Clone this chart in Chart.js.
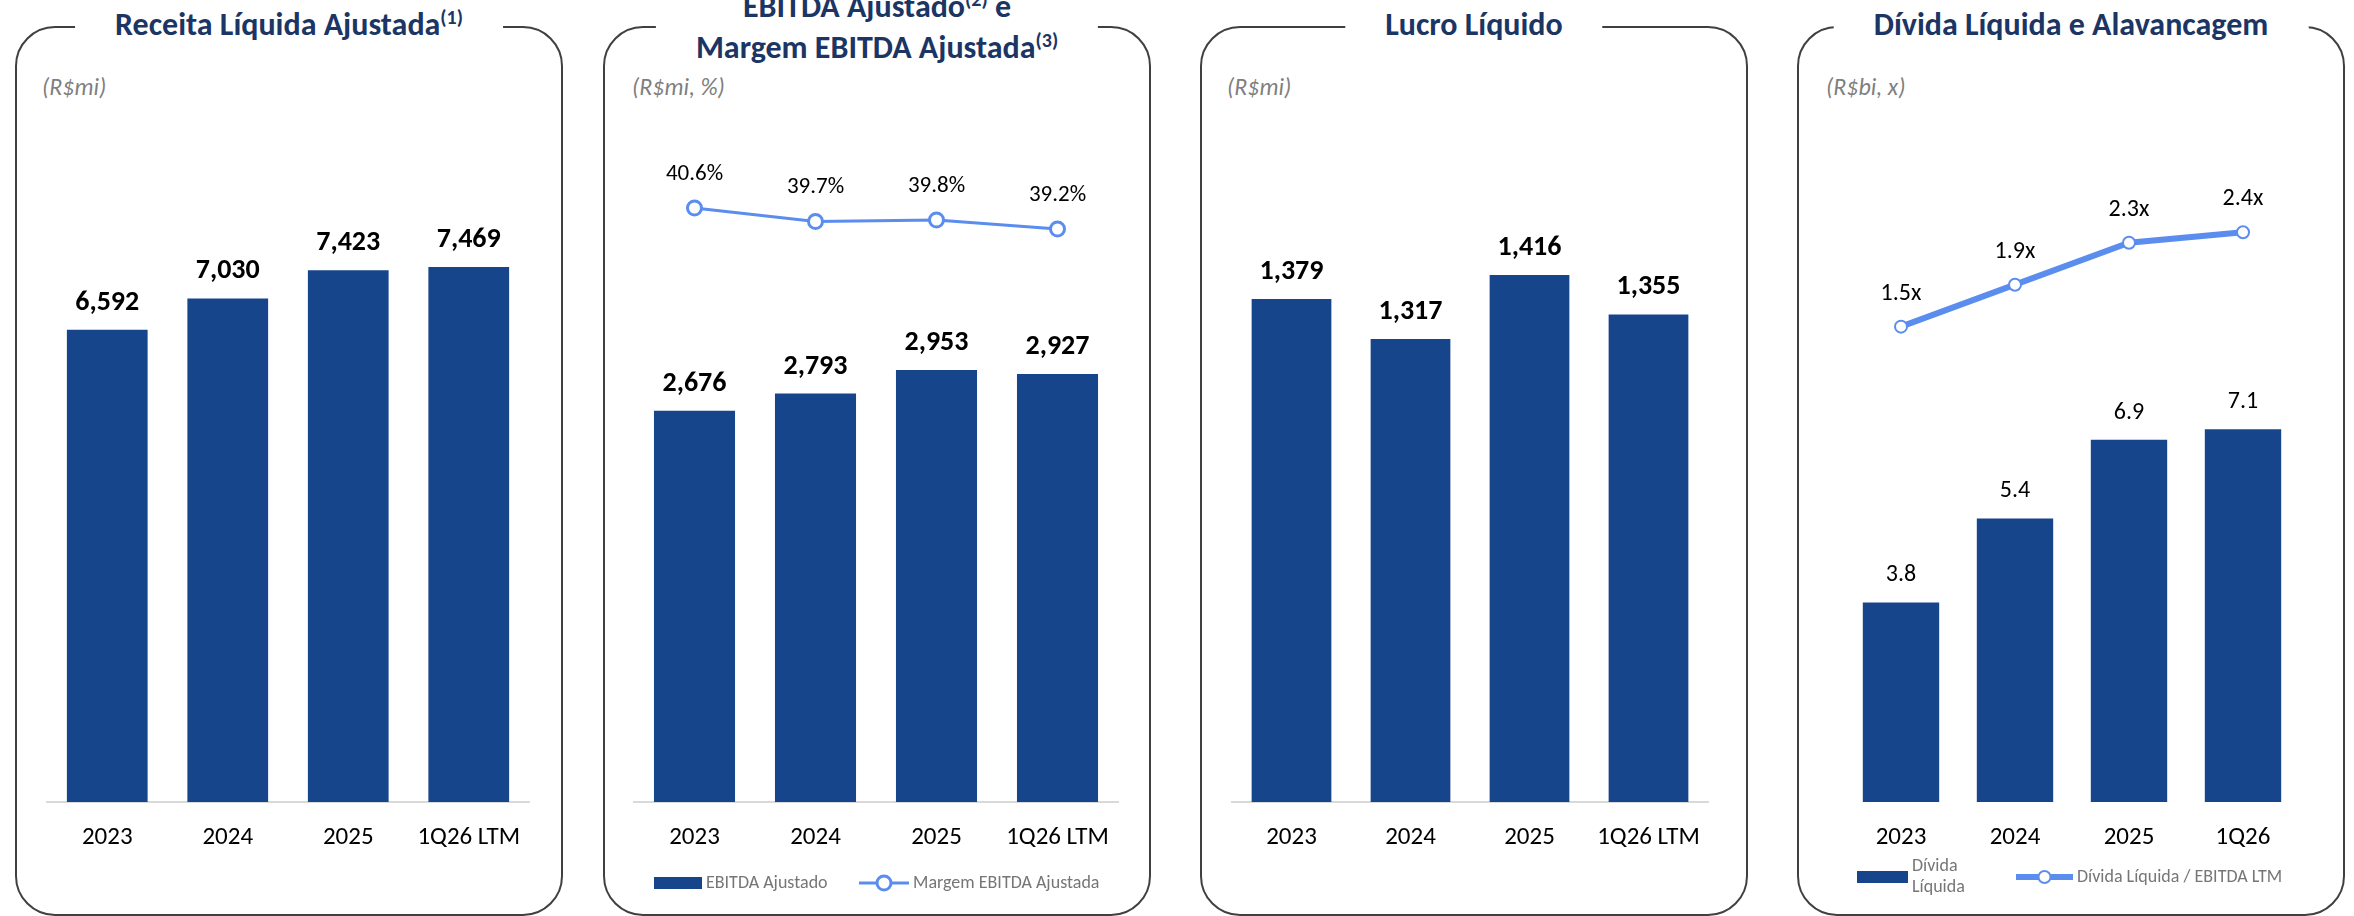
<!DOCTYPE html>
<html lang="pt-BR">
<head>
<meta charset="utf-8">
<title>Resultados</title>
<script src="https://cdn.jsdelivr.net/npm/chart.js@4.4.1/dist/chart.umd.min.js"></script>
<style>
  html, body { margin: 0; padding: 0; background: #fff; }
  body { width: 2354px; height: 916px; position: relative; overflow: hidden;
         font-family: Carlito, Calibri, Lato, sans-serif; }
  .panel { position: absolute; top: 26px; width: 548px; height: 890px; box-sizing: border-box;
           border: 2px solid #404040; border-radius: 40px; }
  .title { position: absolute; transform: translateX(-50%); background: #fff; padding: 0 40px;
           color: #1B3564; font-weight: bold; font-size: 32px; line-height: 38px;
           white-space: nowrap; text-align: center; }
  .title sup { font-size: 20px; vertical-align: 0; position: relative; top: -11px; }
  .unit { position: absolute; top: 73px; color: #7f7f7f; font-style: italic; font-size: 24px; line-height: 28px; }
  .chart { position: absolute; top: 0; width: 548px; height: 916px; }
</style>
</head>
<body>

<div class="panel" style="left:15px"></div>
<div class="panel" style="left:603px"></div>
<div class="panel" style="left:1200px"></div>
<div class="panel" style="left:1797px"></div>

<div class="title" style="left:289px; top:6px">Receita Líquida Ajustada<sup>(1)</sup></div>
<div class="title" style="left:877px; top:-12px">EBITDA Ajustado<sup>(2)</sup> e<br>Margem EBITDA Ajustada<sup>(3)</sup></div>
<div class="title" style="left:1474px; top:6px">Lucro Líquido</div>
<div class="title" style="left:2071px; top:6px">Dívida Líquida e Alavancagem</div>

<div class="unit" style="left:42px">(R$mi)</div>
<div class="unit" style="left:632px">(R$mi, %)</div>
<div class="unit" style="left:1227px">(R$mi)</div>
<div class="unit" style="left:1826px">(R$bi, x)</div>

<div class="chart" style="left:15px"><canvas id="receitaChart" width="548" height="916"></canvas></div>
<div class="chart" style="left:603px"><canvas id="ebitdaChart" width="548" height="916"></canvas></div>
<div class="chart" style="left:1200px"><canvas id="lucroChart" width="548" height="916"></canvas></div>
<div class="chart" style="left:1797px"><canvas id="dividaChart" width="548" height="916"></canvas></div>

<script>
// dados
const periods = ['2023', '2024', '2025', '1Q26 LTM'];
const periodsDebt = ['2023', '2024', '2025', '1Q26'];
const receita = [6592, 7030, 7423, 7469];
const ebitda = [2676, 2793, 2953, 2927];
const margemEbitda = [40.6, 39.7, 39.8, 39.2];
const lucro = [1379, 1317, 1416, 1355];
const dividaLiquida = [3.8, 5.4, 6.9, 7.1];
const alavancagem = [1.5, 1.9, 2.3, 2.4];

const FONT = 'Carlito, Calibri, Lato, sans-serif';
const BAR_COLOR = '#17458B';
const LINE_COLOR = '#5B8DEF';

const fmtInt = v => v.toLocaleString('en-US');
const fmtPct = v => v.toFixed(1) + '%';
const fmtDec = v => v.toFixed(1);
const fmtX = v => v.toFixed(1) + 'x';

// rótulos de valor acima das barras / pontos
const valueLabels = {
  id: 'valueLabels',
  afterDatasetsDraw(chart) {
    const ctx = chart.ctx;
    chart.data.datasets.forEach((ds, i) => {
      const cfg = ds.valueLabel;
      if (!cfg) return;
      const meta = chart.getDatasetMeta(i);
      meta.data.forEach((el, j) => {
        ctx.save();
        ctx.font = cfg.font;
        ctx.fillStyle = '#000';
        ctx.textAlign = 'center';
        ctx.textBaseline = 'middle';
        ctx.fillText(cfg.format(ds.data[j]), el.x, el.y - cfg.offset);
        ctx.restore();
      });
    });
  }
};

// legenda desenhada à mão, no rodapé do quadro
const boxLegend = {
  id: 'boxLegend',
  afterDraw(chart, args, opts) {
    if (!opts.items) return;
    const ctx = chart.ctx;
    const y = opts.y;
    opts.items.forEach(item => {
      const ds = chart.data.datasets[item.dataset];
      ctx.save();
      if (ds.type === 'line') {
        ctx.strokeStyle = ds.borderColor;
        ctx.lineWidth = ds.borderWidth;
        ctx.beginPath();
        ctx.moveTo(item.x, y);
        ctx.lineTo(item.x + item.w, y);
        ctx.stroke();
        ctx.fillStyle = '#fff';
        ctx.lineWidth = ds.pointBorderWidth;
        ctx.beginPath();
        ctx.arc(item.x + item.w / 2, y, ds.pointRadius, 0, Math.PI * 2);
        ctx.fill();
        ctx.stroke();
      } else {
        ctx.fillStyle = ds.backgroundColor;
        ctx.fillRect(item.x, y - 6, item.w, 12);
      }
      ctx.fillStyle = '#767676';
      ctx.font = '18px ' + FONT;
      ctx.textAlign = 'left';
      ctx.textBaseline = 'middle';
      const lines = ds.label.split('\n');
      const lh = 21;
      lines.forEach((t, k) => {
        ctx.fillText(t, item.x + item.w + 4, y + (k - (lines.length - 1) / 2) * lh);
      });
      ctx.restore();
    });
  }
};

function baseOptions(yRange, pad, legend) {
  const opts = {
    responsive: false,
    devicePixelRatio: 1,
    animation: false,
    events: [],
    layout: { padding: { top: 100, left: pad[0], right: pad[1], bottom: 54 } },
    plugins: {
      legend: { display: false },
      tooltip: { enabled: false },
      boxLegend: legend || {}
    },
    scales: {
      x: {
        grid: { display: false, drawTicks: false },
        border: { display: true, color: '#d9d9d9', width: 2 },
        ticks: { color: '#000', font: { family: FONT, size: 25 }, padding: 21, maxRotation: 0 },
        afterFit: s => { s.height = 60; }
      },
      y: { display: false, min: yRange[0], max: yRange[1] }
    }
  };
  return opts;
}

function barDataset(label, data, font) {
  return {
    type: 'bar',
    label: label,
    data: data,
    backgroundColor: BAR_COLOR,
    barPercentage: 0.67,
    categoryPercentage: 1,
    order: 1,
    yAxisID: 'y',
    valueLabel: { font: font, offset: 27, format: fmtInt }
  };
}

function lineDataset(label, data, width, radius, fmt, font, offset) {
  return {
    type: 'line',
    label: label,
    data: data,
    borderColor: LINE_COLOR,
    borderWidth: width,
    pointRadius: radius,
    pointBorderWidth: 3,
    pointBackgroundColor: '#fff',
    pointBorderColor: LINE_COLOR,
    order: 0,
    yAxisID: 'y2',
    valueLabel: { font: font, offset: offset, format: fmt }
  };
}

const BOLD_LABEL = 'bold 28px ' + FONT;

// Receita Líquida Ajustada
new Chart(document.getElementById('receitaChart'), {
  type: 'bar',
  data: { labels: periods, datasets: [barDataset('Receita Líquida Ajustada', receita, BOLD_LABEL)] },
  options: baseOptions([0, 9800], [32, 34]),
  plugins: [valueLabels, boxLegend]
});

// EBITDA Ajustado e margem
const ebitdaOptions = baseOptions([0, 4800], [31, 33], {
  y: 883,
  items: [{ dataset: 0, x: 51, w: 48 }, { dataset: 1, x: 256, w: 50 }]
});
ebitdaOptions.scales.y2 = { display: false, min: 1.0, max: 47.8 };
new Chart(document.getElementById('ebitdaChart'), {
  type: 'bar',
  data: {
    labels: periods,
    datasets: [
      barDataset('EBITDA Ajustado', ebitda, BOLD_LABEL),
      lineDataset('Margem EBITDA Ajustada', margemEbitda, 3, 7, fmtPct, '23px ' + FONT, 34)
    ]
  },
  options: ebitdaOptions,
  plugins: [valueLabels, boxLegend]
});

// Lucro Líquido
new Chart(document.getElementById('lucroChart'), {
  type: 'bar',
  data: { labels: periods, datasets: [barDataset('Lucro Líquido', lucro, BOLD_LABEL)] },
  options: baseOptions([600, 1687], [32, 40]),
  plugins: [valueLabels, boxLegend]
});

// Dívida Líquida e Alavancagem
const dividaBars = barDataset('Dívida\nLíquida', dividaLiquida, '24px ' + FONT);
dividaBars.valueLabel.format = fmtDec;
const dividaOptions = baseOptions([0, 13.37], [47, 45], {
  y: 877,
  items: [{ dataset: 0, x: 60, w: 51 }, { dataset: 1, x: 219, w: 57 }]
});
dividaOptions.scales.y2 = { display: false, min: -3.03, max: 3.66 };
dividaOptions.scales.x.border.display = false;
const dividaLine = lineDataset('Dívida Líquida / EBITDA LTM', alavancagem, 6, 6, fmtX, '24px ' + FONT, 33);
dividaLine.pointBorderWidth = 2;
new Chart(document.getElementById('dividaChart'), {
  type: 'bar',
  data: { labels: periodsDebt, datasets: [dividaBars, dividaLine] },
  options: dividaOptions,
  plugins: [valueLabels, boxLegend]
});
</script>
</body>
</html>
